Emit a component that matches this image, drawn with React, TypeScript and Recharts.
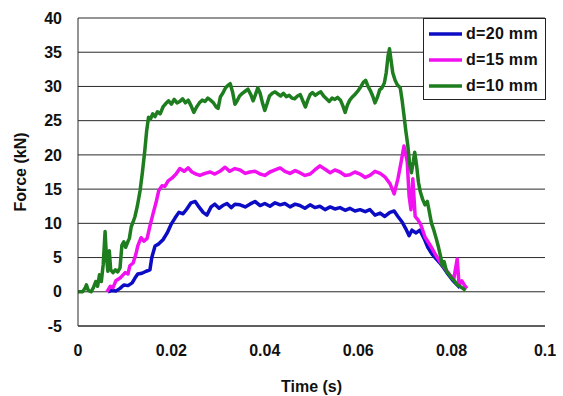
import React from "react";
import { LineChart, Line, XAxis, YAxis, CartesianGrid } from "recharts";

// d=20 mm (blue)
const timeD20 = [0.0064,0.0073,0.0081,0.0090,0.0098,0.0107,0.0116,0.0122,0.0128,0.0137,0.0146,0.0154,0.0158,0.0165,0.0173,0.0182,0.0191,0.0199,0.0208,0.0216,0.0225,0.0233,0.0242,0.0251,0.0259,0.0268,0.0276,0.0285,0.0293,0.0302,0.0310,0.0319,0.0328,0.0336,0.0347,0.0358,0.0368,0.0379,0.0390,0.0400,0.0411,0.0422,0.0433,0.0443,0.0454,0.0465,0.0475,0.0486,0.0497,0.0507,0.0518,0.0529,0.0540,0.0550,0.0561,0.0572,0.0582,0.0593,0.0604,0.0615,0.0625,0.0636,0.0647,0.0657,0.0668,0.0677,0.0685,0.0694,0.0702,0.0709,0.0715,0.0724,0.0732,0.0741,0.0749,0.0758,0.0767,0.0775,0.0784,0.0792,0.0801,0.0809,0.0818];
const forceD20 = [0,0.2,0.1,0.5,1.0,0.9,1.3,2.0,2.6,2.7,3.0,3.2,5.0,6.7,7.0,7.6,8.6,9.8,10.8,11.6,11.4,12.1,13.0,13.2,12.4,11.6,11.2,12.4,12.8,12.2,12.6,12.9,12.3,12.8,12.7,12.4,12.8,13.2,12.6,12.9,12.5,13.0,12.7,12.9,12.4,12.8,12.6,12.2,12.7,12.3,12.5,12.0,12.4,12.1,12.3,11.9,12.2,11.8,12.0,11.7,12.0,11.2,11.5,11.0,11.6,11.8,11.0,10.2,9.2,8.2,9.0,8.6,9.0,7.8,6.5,5.5,4.8,4.2,3.4,2.6,1.8,1.2,0.6];

// d=15 mm (magenta)
const timeD15 = [0.0062,0.0069,0.0075,0.0081,0.0090,0.0101,0.0107,0.0111,0.0118,0.0124,0.0128,0.0135,0.0141,0.0148,0.0154,0.0161,0.0167,0.0173,0.0180,0.0186,0.0193,0.0201,0.0210,0.0218,0.0227,0.0236,0.0244,0.0253,0.0261,0.0272,0.0283,0.0293,0.0304,0.0315,0.0325,0.0336,0.0347,0.0358,0.0368,0.0379,0.0390,0.0400,0.0411,0.0422,0.0433,0.0443,0.0454,0.0465,0.0475,0.0486,0.0497,0.0507,0.0518,0.0529,0.0540,0.0550,0.0561,0.0572,0.0582,0.0593,0.0604,0.0615,0.0625,0.0636,0.0647,0.0657,0.0668,0.0677,0.0685,0.0692,0.0698,0.0705,0.0709,0.0713,0.0717,0.0722,0.0728,0.0734,0.0743,0.0754,0.0764,0.0775,0.0786,0.0797,0.0805,0.0812,0.0816,0.0822,0.0829,0.0833];
const forceD15 = [0,0.8,0.6,1.6,2.0,2.8,2.6,3.8,4.2,5.5,6.7,7.9,7.4,7.8,9.6,11.5,13.0,14.8,15.5,15.4,16.2,16.6,17.2,18.0,17.6,18.1,17.5,17.2,17.0,17.3,17.5,17.2,17.6,18.2,17.6,18.0,17.8,17.3,17.5,17.6,17.2,17.0,17.5,17.8,18.1,17.6,17.3,17.7,17.4,17.0,17.2,17.8,18.4,17.9,17.4,17.8,17.5,17.0,17.1,17.5,17.2,16.7,17.0,17.6,17.3,16.8,15.8,14.3,16.5,19.0,21.3,19.0,14.0,12.0,16.5,11.0,10.5,9.8,8.0,6.8,5.6,4.4,3.4,2.4,2.0,4.8,1.0,1.6,0.8,0.5];

// d=10 mm (green)
const timeD10 = [0,0.0010,0.0015,0.0018,0.0022,0.0028,0.0033,0.0038,0.0042,0.0046,0.0050,0.0054,0.0058,0.0061,0.0064,0.0067,0.0070,0.0075,0.0080,0.0085,0.0090,0.0094,0.0098,0.0102,0.0106,0.0110,0.0114,0.0118,0.0122,0.0127,0.0133,0.0138,0.0143,0.0147,0.0151,0.0155,0.0160,0.0165,0.0170,0.0176,0.0182,0.0188,0.0194,0.0200,0.0206,0.0212,0.0218,0.0224,0.0230,0.0236,0.0242,0.0248,0.0254,0.0260,0.0266,0.0272,0.0278,0.0284,0.0290,0.0296,0.0300,0.0305,0.0310,0.0316,0.0322,0.0326,0.0331,0.0336,0.0340,0.0346,0.0352,0.0358,0.0364,0.0370,0.0375,0.0380,0.0385,0.0390,0.0395,0.0400,0.0405,0.0410,0.0416,0.0422,0.0428,0.0434,0.0440,0.0446,0.0452,0.0458,0.0464,0.0470,0.0476,0.0482,0.0487,0.0492,0.0497,0.0502,0.0508,0.0514,0.0520,0.0526,0.0532,0.0538,0.0544,0.0550,0.0556,0.0562,0.0567,0.0572,0.0577,0.0582,0.0588,0.0594,0.0600,0.0606,0.0611,0.0616,0.0621,0.0626,0.0631,0.0636,0.0641,0.0646,0.0651,0.0656,0.0660,0.0664,0.0667,0.0670,0.0674,0.0679,0.0684,0.0690,0.0694,0.0698,0.0702,0.0706,0.0710,0.0714,0.0718,0.0721,0.0725,0.0729,0.0733,0.0738,0.0743,0.0748,0.0752,0.0757,0.0762,0.0767,0.0772,0.0777,0.0780,0.0784,0.0789,0.0794,0.0800,0.0806,0.0812,0.0818,0.0824,0.0830];
const forceD10 = [0,0,0.5,1.0,0.2,0,0.6,1.5,0.8,2.5,1.5,4.0,8.8,5.0,3.0,6.0,3.2,2.8,3.2,2.9,3.5,6.8,7.3,6.5,7.2,7.8,9.5,10.2,11.0,12.5,14.8,17.5,20.6,23.5,25.5,25.2,26.0,25.6,26.3,26.0,27.0,27.5,27.9,27.4,28.1,27.6,27.8,28.2,27.6,28.0,27.2,26.2,27.0,27.6,28.0,27.8,28.3,28.0,27.6,27.0,26.8,28.5,29.0,29.8,30.2,30.4,29.2,27.4,27.8,28.6,29.0,29.3,29.6,28.8,27.9,28.8,29.8,29.0,27.6,26.5,27.5,28.6,29.0,29.2,28.9,28.6,29.0,28.5,28.7,28.3,28.2,28.6,28.8,27.8,27.0,28.0,28.8,29.1,28.7,29.0,29.2,28.6,28.2,27.8,28.3,28.1,28.4,28.0,27.2,26.2,27.3,28.0,28.5,28.9,29.4,30.0,30.6,30.9,30.0,29.4,28.6,27.6,28.4,29.5,29.8,30.5,32.0,34.5,35.5,34.0,32.0,30.9,30.2,29.8,28.0,25.8,23.5,21.5,18.8,17.4,19.0,20.4,18.5,16.0,14.6,13.5,12.7,13.2,11.8,10.0,9.0,7.8,6.5,5.0,3.8,4.4,3.0,2.6,2.0,1.6,1.0,0.8,0.5,0.2];

const xTicks = [0, 0.02, 0.04, 0.06, 0.08, 0.1];
const xTickLabels = ["0", "0.02", "0.04", "0.06", "0.08", "0.1"];
const yTicks = [-5, 0, 5, 10, 15, 20, 25, 30, 35, 40];

const seriesNames = ["d=20 mm", "d=15 mm", "d=10 mm"];
const seriesColors = ["#0c0cc4", "#f010f0", "#1e7d1e"];

const toRows = (ts: number[], fs: number[]) => ts.map((t, i) => ({ t, f: fs[i] }));
const seriesData = [toRows(timeD20, forceD20), toRows(timeD15, forceD15), toRows(timeD10, forceD10)];

const FONT = "'Liberation Sans', Arial, sans-serif";

const LegendBox = () => (
  <div
    style={{
      position: "absolute",
      left: 423,
      top: 18,
      width: 121,
      height: 80,
      border: "1px solid #222",
      background: "#fff",
      fontFamily: FONT,
      fontWeight: "bold",
      fontSize: 16,
      color: "#111",
    }}
  >
    {seriesNames.map((n, i) => (
      <div key={n} style={{ display: "flex", alignItems: "center", height: 26, marginTop: i === 0 ? 2 : 0 }}>
        <svg width={38} height={10} style={{ marginLeft: 4 }}>
          <line x1={1} y1={5} x2={34} y2={5} stroke={seriesColors[i]} strokeWidth={3.5} />
        </svg>
        <span style={{ letterSpacing: 0.3 }}>{n}</span>
      </div>
    ))}
  </div>
);

export default function App() {
  return (
    <div style={{ position: "absolute", left: 0, top: 0, width: 563, height: 396, background: "#fff" }}>
      <LineChart width={563} height={396} margin={{ top: 18, right: 18, bottom: 0, left: 0 }}>
        <CartesianGrid vertical={false} stroke="#2a2a2a" strokeWidth={1} />
        <XAxis
          type="number"
          dataKey="t"
          domain={[0, 0.1]}
          ticks={xTicks}
          tickFormatter={(v: number) => xTickLabels[xTicks.findIndex((x) => Math.abs(x - v) < 1e-9)] ?? String(v)}
          tickLine={false}
          tickSize={0}
          tickMargin={19}
          height={70}
          axisLine={{ stroke: "#2a2a2a" }}
          tick={{ fill: "#111", fontSize: 16, fontWeight: "bold", fontFamily: FONT }}
          label={{ value: "Time (s)", position: "insideBottom", offset: 4, style: { fill: "#111", fontSize: 16, fontWeight: "bold", fontFamily: FONT } }}
          allowDataOverflow
        />
        <YAxis
          type="number"
          domain={[-5, 40]}
          ticks={yTicks}
          tickLine={false}
          tickSize={0}
          tickMargin={16}
          width={78}
          axisLine={{ stroke: "#2a2a2a" }}
          tick={{ fill: "#111", fontSize: 16, fontWeight: "bold", fontFamily: FONT }}
          label={{ value: "Force (kN)", angle: -90, position: "insideLeft", offset: 20, style: { fill: "#111", fontSize: 16, fontWeight: "bold", fontFamily: FONT, textAnchor: "middle" } }}
        />
        {seriesData.map((d, i) => (
          <Line
            key={seriesNames[i]}
            data={d}
            dataKey="f"
            name={seriesNames[i]}
            type="linear"
            stroke={seriesColors[i]}
            strokeWidth={3.5}
            strokeLinejoin="round"
            dot={false}
            isAnimationActive={false}
          />
        ))}
      </LineChart>
      <LegendBox />
    </div>
  );
}
